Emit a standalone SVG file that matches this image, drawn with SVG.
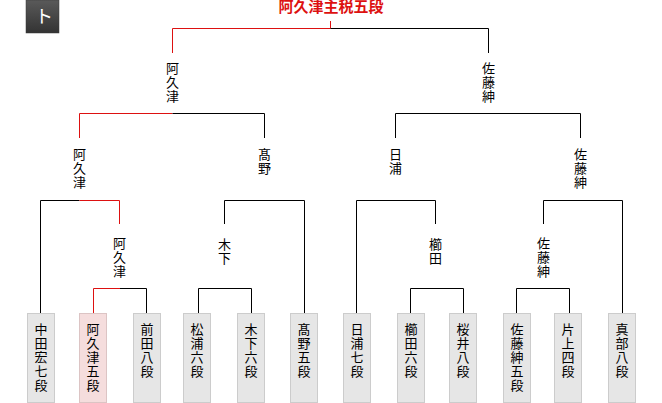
<svg xmlns="http://www.w3.org/2000/svg" width="662" height="403" viewBox="0 0 662 403">
<defs>
<linearGradient id="bg" x1="0" y1="0" x2="0" y2="1">
<stop offset="0" stop-color="#5a5a5a"/>
<stop offset="1" stop-color="#333333"/>
</linearGradient>
</defs>
<style>
.t{font-family:"Noto Sans CJK JP","Noto Sans CJK SC",sans-serif;font-size:13px;fill:#000;text-anchor:middle}
.title{font-family:"Noto Sans CJK JP","Noto Sans CJK SC",sans-serif;font-size:15px;font-weight:bold;fill:#dd1111;text-anchor:middle}
.b{fill:none;stroke:#000;stroke-width:1}
.r{fill:none;stroke:#dd1111;stroke-width:1}
.leaf{fill:#e6e6e6;stroke:#cccccc;stroke-width:1}
.win{fill:#f5dddd;stroke:#dcc4c4;stroke-width:1}
</style>
<rect width="662" height="403" fill="#ffffff"/>
<g id="badge">
<rect x="26" y="0" width="33" height="33" fill="url(#bg)" stroke="#3a3a3a" stroke-width="0.5"/>
<text x="44" y="23" font-family="'Noto Sans CJK JP',sans-serif" font-size="18" fill="#ffffff" text-anchor="middle">ト</text>
</g>
<g id="title">
<text class="title" x="331" y="12">阿久津主税五段</text>
</g>
<g id="connectors">
<path class="r" d="M330.5,21 V28.5 M172.5,28.5 H330.5 M172.5,28.5 V53"/>
<path class="b" d="M330.5,28.5 H488.5 V53"/>
<path class="r" d="M79.5,113.5 H172.5 M79.5,113.5 V138"/>
<path class="b" d="M172.5,113.5 H264.5 V138"/>
<path class="b" d="M395.5,113.5 H580.5 M395.5,113.5 V138 M580.5,113.5 V138"/>
<path class="b" d="M40.5,313 V200.5 H79.5"/>
<path class="r" d="M79.5,200.5 H119.5 V224"/>
<path class="b" d="M224.5,224 V200.5 H304.5 V313"/>
<path class="b" d="M356.5,313 V200.5 H435.5 V224"/>
<path class="b" d="M543.5,224 V200.5 H622.5 V313"/>
<path class="r" d="M93.5,313 V288.5 H120"/>
<path class="b" d="M120,288.5 H146.5 V313"/>
<path class="b" d="M198.5,313 V288.5 H251.5 V313"/>
<path class="b" d="M410.5,313 V288.5 H463.5 V313"/>
<path class="b" d="M516.5,313 V288.5 H569.5 V313"/>
</g>
<g id="n-akutsu-1"><text class="t" x="172.5" y="73"><tspan x="172.5">阿</tspan><tspan x="172.5" dy="14">久</tspan><tspan x="172.5" dy="14">津</tspan></text></g>
<g id="n-sato-1"><text class="t" x="488.5" y="73"><tspan x="488.5">佐</tspan><tspan x="488.5" dy="14">藤</tspan><tspan x="488.5" dy="14">紳</tspan></text></g>
<g id="n-akutsu-2"><text class="t" x="79.5" y="159"><tspan x="79.5">阿</tspan><tspan x="79.5" dy="14">久</tspan><tspan x="79.5" dy="14">津</tspan></text></g>
<g id="n-takano-2"><text class="t" x="264.5" y="159"><tspan x="264.5">髙</tspan><tspan x="264.5" dy="14">野</tspan></text></g>
<g id="n-hiura-2"><text class="t" x="395.5" y="159"><tspan x="395.5">日</tspan><tspan x="395.5" dy="14">浦</tspan></text></g>
<g id="n-sato-2"><text class="t" x="580.5" y="159"><tspan x="580.5">佐</tspan><tspan x="580.5" dy="14">藤</tspan><tspan x="580.5" dy="14">紳</tspan></text></g>
<g id="n-akutsu-3"><text class="t" x="119.5" y="248"><tspan x="119.5">阿</tspan><tspan x="119.5" dy="14">久</tspan><tspan x="119.5" dy="14">津</tspan></text></g>
<g id="n-kinoshita-3"><text class="t" x="224.5" y="249"><tspan x="224.5">木</tspan><tspan x="224.5" dy="14">下</tspan></text></g>
<g id="n-kushida-3"><text class="t" x="435.5" y="249"><tspan x="435.5">櫛</tspan><tspan x="435.5" dy="14">田</tspan></text></g>
<g id="n-sato-3"><text class="t" x="543.5" y="248"><tspan x="543.5">佐</tspan><tspan x="543.5" dy="14">藤</tspan><tspan x="543.5" dy="14">紳</tspan></text></g>
<g id="leaf-nakata"><rect class="leaf" x="27.5" y="313.5" width="27" height="89"/><text class="t" y="334"><tspan x="41">中</tspan><tspan x="41" dy="14">田</tspan><tspan x="41" dy="14">宏</tspan><tspan x="41" dy="14">七</tspan><tspan x="41" dy="14">段</tspan></text></g>
<g id="leaf-akutsu"><rect class="win" x="79.5" y="313.5" width="27" height="89"/><text class="t" y="334"><tspan x="93">阿</tspan><tspan x="93" dy="14">久</tspan><tspan x="93" dy="14">津</tspan><tspan x="93" dy="14">五</tspan><tspan x="93" dy="14">段</tspan></text></g>
<g id="leaf-maeda"><rect class="leaf" x="133.5" y="313.5" width="27" height="89"/><text class="t" y="334"><tspan x="147">前</tspan><tspan x="147" dy="14">田</tspan><tspan x="147" dy="14">八</tspan><tspan x="147" dy="14">段</tspan></text></g>
<g id="leaf-matsuura"><rect class="leaf" x="183.5" y="313.5" width="27" height="89"/><text class="t" y="334"><tspan x="197">松</tspan><tspan x="197" dy="14">浦</tspan><tspan x="197" dy="14">六</tspan><tspan x="197" dy="14">段</tspan></text></g>
<g id="leaf-kinoshita"><rect class="leaf" x="237.5" y="313.5" width="27" height="89"/><text class="t" y="334"><tspan x="251">木</tspan><tspan x="251" dy="14">下</tspan><tspan x="251" dy="14">六</tspan><tspan x="251" dy="14">段</tspan></text></g>
<g id="leaf-takano"><rect class="leaf" x="290.5" y="313.5" width="27" height="89"/><text class="t" y="334"><tspan x="304">髙</tspan><tspan x="304" dy="14">野</tspan><tspan x="304" dy="14">五</tspan><tspan x="304" dy="14">段</tspan></text></g>
<g id="leaf-hiura"><rect class="leaf" x="343.5" y="313.5" width="27" height="89"/><text class="t" y="334"><tspan x="357">日</tspan><tspan x="357" dy="14">浦</tspan><tspan x="357" dy="14">七</tspan><tspan x="357" dy="14">段</tspan></text></g>
<g id="leaf-kushida"><rect class="leaf" x="397.5" y="313.5" width="27" height="89"/><text class="t" y="334"><tspan x="411">櫛</tspan><tspan x="411" dy="14">田</tspan><tspan x="411" dy="14">六</tspan><tspan x="411" dy="14">段</tspan></text></g>
<g id="leaf-sakurai"><rect class="leaf" x="449.5" y="313.5" width="27" height="89"/><text class="t" y="334"><tspan x="463">桜</tspan><tspan x="463" dy="14">井</tspan><tspan x="463" dy="14">八</tspan><tspan x="463" dy="14">段</tspan></text></g>
<g id="leaf-sato"><rect class="leaf" x="503.5" y="313.5" width="27" height="89"/><text class="t" y="334"><tspan x="517">佐</tspan><tspan x="517" dy="14">藤</tspan><tspan x="517" dy="14">紳</tspan><tspan x="517" dy="14">五</tspan><tspan x="517" dy="14">段</tspan></text></g>
<g id="leaf-katagami"><rect class="leaf" x="554.5" y="313.5" width="27" height="89"/><text class="t" y="334"><tspan x="568">片</tspan><tspan x="568" dy="14">上</tspan><tspan x="568" dy="14">四</tspan><tspan x="568" dy="14">段</tspan></text></g>
<g id="leaf-manabe"><rect class="leaf" x="608.5" y="313.5" width="27" height="89"/><text class="t" y="334"><tspan x="622">真</tspan><tspan x="622" dy="14">部</tspan><tspan x="622" dy="14">八</tspan><tspan x="622" dy="14">段</tspan></text></g>
</svg>
